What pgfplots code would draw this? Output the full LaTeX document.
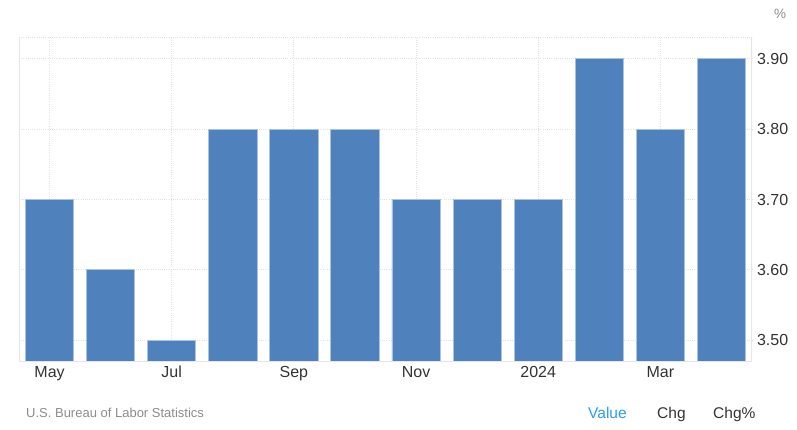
\documentclass[border=0pt]{standalone}
\usepackage{pgfplots}
\pgfplotsset{compat=1.18}
\usepackage{fontspec}
\setmainfont{Liberation Sans}
\definecolor{barblue}{HTML}{4F81BD}
\definecolor{baredge}{HTML}{A9C3E3}
\definecolor{gridc}{HTML}{E2E2E2}
\definecolor{axisc}{HTML}{E6E6E6}
\definecolor{lab}{HTML}{333333}
\definecolor{src}{HTML}{8C8C8C}
\definecolor{valblue}{HTML}{2E9BF0}
\begin{document}
\begin{tikzpicture}[x=1pt,y=1pt]
\useasboundingbox (0,0) rectangle (797,430);
\begin{axis}[
  at={(19pt,68pt)}, anchor=south west,
  scale only axis, width=733pt, height=325pt,
  xmin=-0.5, xmax=11.5, ymin=3.469, ymax=3.931,
  ybar, bar width=0.79,
  axis line style={draw=none},
  major tick length=0pt,
  xtick={0,2,4,6,8,10},
  xticklabels={May,Jul,Sep,Nov,2024,Mar},
  ytick={3.5,3.6,3.7,3.8,3.9},
  yticklabel pos=right,
  yticklabel={\pgfmathprintnumber[fixed,fixed zerofill,precision=2]{\tick}},
  /pgf/number format/assume math mode=true,
  tick label style={font=\fontsize{16}{18}\selectfont, text=lab},
  y tick label style={anchor=west, xshift=1.5pt},
  x tick label style={anchor=base, yshift=-16pt},
  xmajorgrids, ymajorgrids,
  grid style={gridc, line width=0.8pt, dash pattern=on 1pt off 1.2pt},
]
\draw[gridc, line width=0.8pt, dash pattern=on 1pt off 1.2pt] (rel axis cs:0,1) -- (rel axis cs:1,1);
\addplot[fill=barblue, draw=baredge, line width=0.8pt] coordinates {
  (0,3.7) (1,3.6) (2,3.5) (3,3.8) (4,3.8) (5,3.8)
  (6,3.7) (7,3.7) (8,3.7) (9,3.9) (10,3.8) (11,3.9)
};
\draw[axisc, line width=1.2pt] (rel axis cs:0,0) -- (rel axis cs:0,1);
\draw[axisc, line width=1.2pt] (rel axis cs:1,0) -- (rel axis cs:1,1);
\draw[axisc, line width=1.2pt] (rel axis cs:0,0) -- (rel axis cs:1,0);
\end{axis}
\node[anchor=base west, inner sep=0, text=src, font=\fontsize{13.5}{15}\selectfont] at (774,411) {\%};
\node[anchor=base west, inner sep=0, text=src, font=\fontsize{13}{15}\selectfont] at (26,12) {U.S. Bureau of Labor Statistics};
\node[anchor=base west, inner sep=0, text=valblue, font=\fontsize{15.5}{17}\selectfont] at (588,11) {Value};
\node[anchor=base west, inner sep=0, text=lab, font=\fontsize{15.5}{17}\selectfont] at (657,11) {Chg};
\node[anchor=base west, inner sep=0, text=lab, font=\fontsize{15.5}{17}\selectfont] at (713,11) {Chg\%};
\end{tikzpicture}
\end{document}
